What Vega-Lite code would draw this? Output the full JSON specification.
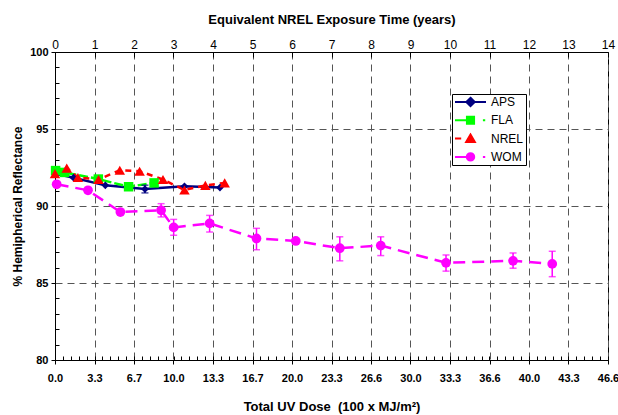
{
  "$schema": "https://vega.github.io/schema/vega-lite/v6.json",
  "width": 553,
  "height": 308,
  "autosize": {"type": "none"},
  "padding": {"left": 55, "top": 52, "right": 10, "bottom": 55},
  "background": "white",
  "config": {
    "font": "Liberation Sans",
    "view": {"stroke": "#000", "strokeWidth": 1},
    "axis": {"domainColor": "#000", "tickColor": "#000", "labelColor": "#000", "titleColor": "#000"}
  },
  "data": {
    "values": [
      {"series": "APS", "dose": 0.1, "refl": 92.1},
      {"series": "APS", "dose": 1.56, "refl": 91.84},
      {"series": "APS", "dose": 4.24, "refl": 91.34},
      {"series": "APS", "dose": 7.58, "refl": 91.1, "lo": 90.85, "hi": 91.35},
      {"series": "APS", "dose": 10.91, "refl": 91.28},
      {"series": "APS", "dose": 13.9, "refl": 91.2},
      {"series": "FLA", "dose": 0.05, "refl": 92.3},
      {"series": "FLA", "dose": 0.8, "refl": 92.18},
      {"series": "FLA", "dose": 3.65, "refl": 91.75},
      {"series": "FLA", "dose": 6.2, "refl": 91.25},
      {"series": "FLA", "dose": 8.35, "refl": 91.5},
      {"series": "NREL", "dose": 0.0, "refl": 92.1},
      {"series": "NREL", "dose": 0.99, "refl": 92.46},
      {"series": "NREL", "dose": 1.93, "refl": 91.85},
      {"series": "NREL", "dose": 3.67, "refl": 91.72},
      {"series": "NREL", "dose": 5.46, "refl": 92.32},
      {"series": "NREL", "dose": 7.13, "refl": 92.26},
      {"series": "NREL", "dose": 9.1, "refl": 91.72},
      {"series": "NREL", "dose": 10.91, "refl": 91.04},
      {"series": "NREL", "dose": 12.67, "refl": 91.34},
      {"series": "NREL", "dose": 14.3, "refl": 91.5},
      {"series": "WOM", "dose": 0.14, "refl": 91.41},
      {"series": "WOM", "dose": 2.78, "refl": 91.02},
      {"series": "WOM", "dose": 5.51, "refl": 89.61},
      {"series": "WOM", "dose": 8.94, "refl": 89.72, "lo": 89.29, "hi": 90.15},
      {"series": "WOM", "dose": 10.0, "refl": 88.61, "lo": 88.1, "hi": 89.13},
      {"series": "WOM", "dose": 13.03, "refl": 88.87, "lo": 88.31, "hi": 89.39},
      {"series": "WOM", "dose": 16.98, "refl": 87.89, "lo": 87.16, "hi": 88.55},
      {"series": "WOM", "dose": 20.29, "refl": 87.73},
      {"series": "WOM", "dose": 24.0, "refl": 87.26, "lo": 86.44, "hi": 88.0},
      {"series": "WOM", "dose": 27.45, "refl": 87.43, "lo": 86.78, "hi": 88.0},
      {"series": "WOM", "dose": 32.95, "refl": 86.31, "lo": 85.77, "hi": 86.82},
      {"series": "WOM", "dose": 38.6, "refl": 86.44, "lo": 85.96, "hi": 86.95},
      {"series": "WOM", "dose": 41.9, "refl": 86.24, "lo": 85.41, "hi": 87.06}
    ]
  },
  "resolve": {"axis": {"x": "independent", "y": "independent"}},
  "layer": [
    {
      "transform": [{"filter": "datum.series === 'APS'"}],
      "mark": {"type": "line", "strokeWidth": 2.5, "color": "#000080"},
      "encoding": {
        "x": {"field": "dose", "type": "quantitative",
          "scale": {"domain": [0, 46.6], "nice": false, "zero": false},
          "axis": {"orient": "bottom", "title": "Total UV Dose \u00a0(100 x MJ/m²)",
            "values": [0, 3.3286, 6.6571, 9.9857, 13.3143, 16.6429, 19.9714, 23.3, 26.6286, 29.9571, 33.2857, 36.6143, 39.9429, 43.2714, 46.6],
            "labelExpr": "['0.0','3.3','6.7','10.0','13.3','16.7','20.0','23.3','26.6','30.0','33.3','36.6','40.0','43.3','46.6'][round(datum.value/3.32857)]",
            "labelFont": "Liberation Sans", "labelFontSize": 11, "labelFontWeight": "bold", "labelPadding": 8,
            "labelFlush": false, "labelOverlap": false,
            "titleFont": "Liberation Sans", "titleFontSize": 13, "titleFontWeight": "bold", "titlePadding": 17,
            "tickSize": 4, "grid": true, "gridDash": [7, 5], "gridColor": "#555", "gridWidth": 1}},
        "y": {"field": "refl", "type": "quantitative",
          "scale": {"domain": [80, 100], "nice": false, "zero": false},
          "axis": {"orient": "left", "title": "% Hemipherical Reflectance", "values": [80, 85, 90, 95, 100],
            "labelFont": "Liberation Sans", "labelFontSize": 11, "labelFontWeight": "bold", "labelPadding": 3,
            "titleFont": "Liberation Sans", "titleFontSize": 12, "titleFontWeight": "bold", "titlePadding": 5,
            "tickSize": 4, "grid": true, "gridDash": [7, 5], "gridColor": "#555", "gridWidth": 1}}
      }
    },
    {
      "transform": [{"filter": "datum.series === 'FLA'"}],
      "mark": {"type": "line", "strokeWidth": 2.5, "color": "#00FF00", "strokeDash": [9, 3]},
      "encoding": {
        "x": {"field": "dose", "type": "quantitative", "axis": null},
        "y": {"field": "refl", "type": "quantitative", "axis": null}
      }
    },
    {
      "transform": [{"filter": "datum.series === 'NREL'"}],
      "mark": {"type": "line", "strokeWidth": 2.5, "color": "#FF0000", "strokeDash": [6, 5]},
      "encoding": {
        "x": {"field": "dose", "type": "quantitative", "axis": null},
        "y": {"field": "refl", "type": "quantitative", "axis": null}
      }
    },
    {
      "transform": [{"filter": "datum.series === 'WOM'"}],
      "mark": {"type": "line", "strokeWidth": 2.5, "color": "#FF00FF", "strokeDash": [12, 7]},
      "encoding": {
        "x": {"field": "dose", "type": "quantitative", "axis": null},
        "y": {"field": "refl", "type": "quantitative", "axis": null}
      }
    },
    {
      "transform": [{"filter": "isValid(datum.lo) && datum.series === 'APS'"}],
      "mark": {"type": "errorbar", "ticks": {"size": 7}, "thickness": 1.5, "color": "#000080"},
      "encoding": {
        "x": {"field": "dose", "type": "quantitative", "axis": null},
        "y": {"field": "lo", "type": "quantitative", "axis": null},
        "y2": {"field": "hi"}
      }
    },
    {
      "transform": [{"filter": "isValid(datum.lo) && datum.series === 'WOM'"}],
      "mark": {"type": "errorbar", "ticks": {"size": 7}, "thickness": 1.5, "color": "#FF00FF"},
      "encoding": {
        "x": {"field": "dose", "type": "quantitative", "axis": null},
        "y": {"field": "lo", "type": "quantitative", "axis": null},
        "y2": {"field": "hi"}
      }
    },
    {
      "transform": [{"filter": "datum.series === 'APS'"}],
      "mark": {"type": "point", "shape": "diamond", "filled": true, "size": 60, "color": "#000080", "opacity": 1},
      "encoding": {
        "x": {"field": "dose", "type": "quantitative",
          "axis": {"orient": "bottom", "title": null, "labels": false, "domain": false, "grid": false, "tickSize": -4,
            "values": [0, 0.666, 1.331, 1.997, 2.663, 3.329, 3.994, 4.66, 5.326, 5.991, 6.657, 7.323, 7.989, 8.654, 9.32, 9.986, 10.651, 11.317, 11.983, 12.649, 13.314, 13.98, 14.646, 15.311, 15.977, 16.643, 17.309, 17.974, 18.64, 19.306, 19.971, 20.637, 21.303, 21.969, 22.634, 23.3, 23.966, 24.631, 25.297, 25.963, 26.629, 27.294, 27.96, 28.626, 29.291, 29.957, 30.623, 31.289, 31.954, 32.62, 33.286, 33.951, 34.617, 35.283, 35.949, 36.614, 37.28, 37.946, 38.611, 39.277, 39.943, 40.609, 41.274, 41.94, 42.606, 43.271, 43.937, 44.603, 45.269, 45.934, 46.6]}},
        "y": {"field": "refl", "type": "quantitative", "axis": null}
      }
    },
    {
      "transform": [{"filter": "datum.series === 'FLA'"}],
      "mark": {"type": "point", "shape": "square", "filled": true, "size": 90, "color": "#00FF00", "opacity": 1},
      "encoding": {
        "x": {"field": "dose", "type": "quantitative", "axis": null},
        "y": {"field": "refl", "type": "quantitative", "axis": null}
      }
    },
    {
      "transform": [{"filter": "datum.series === 'NREL'"}],
      "mark": {"type": "point", "shape": "triangle-up", "filled": true, "size": 110, "color": "#FF0000", "opacity": 1},
      "encoding": {
        "x": {"field": "dose", "type": "quantitative", "axis": null},
        "y": {"field": "refl", "type": "quantitative", "axis": null}
      }
    },
    {
      "transform": [{"filter": "datum.series === 'WOM'"}],
      "mark": {"type": "point", "shape": "circle", "filled": true, "size": 95, "color": "#FF00FF", "opacity": 1},
      "encoding": {
        "x": {"field": "dose", "type": "quantitative", "axis": null},
        "y": {"field": "refl", "type": "quantitative", "axis": null}
      }
    },
    {
      "mark": {"type": "point", "filled": true, "opacity": 0},
      "encoding": {
        "x": {"field": "dose", "type": "quantitative",
          "axis": {"orient": "top", "title": "Equivalent NREL Exposure Time (years)",
            "values": [0, 3.3286, 6.6571, 9.9857, 13.3143, 16.6429, 19.9714, 23.3, 26.6286, 29.9571, 33.2857, 36.6143, 39.9429, 43.2714, 46.6],
            "labelExpr": "round(datum.value/3.32857)",
            "labelFont": "Liberation Sans", "labelFontSize": 12, "labelPadding": 6, "labelFlush": false, "labelOverlap": false,
            "titleFont": "Liberation Sans", "titleFontSize": 13, "titleFontWeight": "bold", "titlePadding": 12,
            "tickSize": -5, "grid": false}},
        "y": {"field": "refl", "type": "quantitative",
          "axis": {"orient": "left", "title": null, "labels": false, "domain": false, "grid": false, "tickSize": -4,
            "values": [81, 82, 83, 84, 86, 87, 88, 89, 91, 92, 93, 94, 96, 97, 98, 99]}},
        "color": {"field": "series", "type": "nominal",
          "scale": {"domain": ["APS", "FLA", "NREL", "WOM"], "range": ["#000080", "#00FF00", "#FF0000", "#FF00FF"]},
          "legend": {"title": null, "orient": "none", "legendX": 397, "legendY": 42, "symbolOpacity": 1,
            "strokeColor": "#000", "fillColor": "white", "padding": 2, "symbolSize": 961, "symbolStrokeWidth": 2,
            "clipHeight": 12, "rowPadding": 6.3, "labelFont": "Liberation Sans", "labelFontSize": 12, "labelColor": "#000", "labelOffset": 4}},
        "stroke": {"field": "series", "type": "nominal",
          "scale": {"domain": ["APS", "FLA", "NREL", "WOM"], "range": ["#000080", "#00FF00", "#FF0000", "#FF00FF"]},
          "legend": {"title": null, "orient": "none", "legendX": 397, "legendY": 42, "symbolOpacity": 1}},
        "shape": {"field": "series", "type": "nominal",
          "scale": {"domain": ["APS", "FLA", "NREL", "WOM"], "range": [
            "M-1,0L1,0M0,-0.27L0.27,0L0,0.27L-0.27,0Z",
            "M-1,0L0,0M0.8,0L0.95,0M-0.23,-0.23L0.23,-0.23L0.23,0.23L-0.23,0.23Z",
            "M-1,0L-0.6,0M0,-0.26L0.28,0.22L-0.28,0.22Z",
            "M-1,0L0,0M0.8,0L0.95,0M0.24,0A0.24,0.24 0 1,1 -0.24,0A0.24,0.24 0 1,1 0.24,0Z"]},
          "legend": {"title": null, "orient": "none", "legendX": 397, "legendY": 42, "symbolOpacity": 1}}
      }
    }
  ]
}
